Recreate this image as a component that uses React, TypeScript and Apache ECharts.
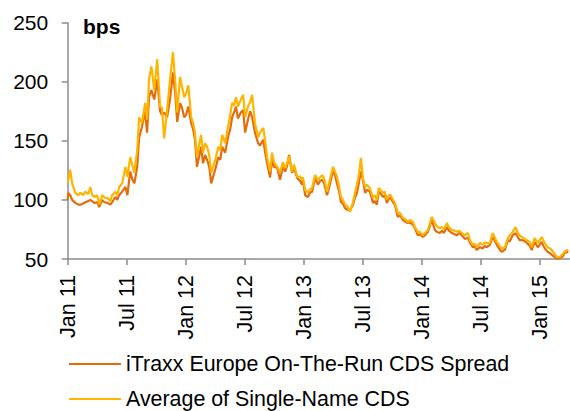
import React, { useEffect, useRef } from "react";
import * as echarts from "echarts";

const dates: string[] = [
  "2011-01-01","2011-01-03","2011-01-09","2011-01-15","2011-01-25","2011-02-03","2011-02-09","2011-02-17","2011-02-23","2011-03-04",
  "2011-03-10","2011-03-16","2011-03-23","2011-04-01","2011-04-07","2011-04-16","2011-04-23","2011-05-02","2011-05-11","2011-05-17",
  "2011-05-27","2011-06-02","2011-06-08","2011-06-17","2011-06-27","2011-07-03","2011-07-12","2011-07-18","2011-07-25","2011-08-03",
  "2011-08-09","2011-08-18","2011-08-28","2011-09-03","2011-09-09","2011-09-16","2011-09-25","2011-10-04","2011-10-13","2011-10-19",
  "2011-10-26","2011-11-04","2011-11-13","2011-11-22","2011-11-29","2011-12-05","2011-12-14","2011-12-20","2011-12-27","2012-01-02",
  "2012-01-09","2012-01-18","2012-01-24","2012-01-30","2012-02-05","2012-02-11","2012-02-17","2012-02-23","2012-02-29","2012-03-06",
  "2012-03-13","2012-03-19","2012-03-25","2012-04-01","2012-04-10","2012-04-16","2012-04-22","2012-05-01","2012-05-10","2012-05-17",
  "2012-05-23","2012-05-29","2012-06-04","2012-06-10","2012-06-19","2012-06-26","2012-07-02","2012-07-11","2012-07-18","2012-07-24",
  "2012-08-02","2012-08-12","2012-08-18","2012-08-28","2012-09-03","2012-09-09","2012-09-18","2012-09-24","2012-09-30","2012-10-10",
  "2012-10-19","2012-10-28","2012-11-04","2012-11-10","2012-11-16","2012-11-25","2012-12-01","2012-12-11","2012-12-20","2012-12-26",
  "2012-12-29","2013-01-05","2013-01-14","2013-01-20","2013-01-27","2013-02-05","2013-02-13","2013-02-19","2013-02-25","2013-03-03",
  "2013-03-12","2013-03-21","2013-03-31","2013-04-06","2013-04-12","2013-04-18","2013-04-24","2013-04-30","2013-05-07","2013-05-16",
  "2013-05-22","2013-06-01","2013-06-07","2013-06-13","2013-06-19","2013-06-25","2013-07-01","2013-07-08","2013-07-14","2013-07-23",
  "2013-08-02","2013-08-08","2013-08-14","2013-08-20","2013-08-27","2013-09-02","2013-09-08","2013-09-14","2013-09-20","2013-09-26",
  "2013-10-03","2013-10-09","2013-10-18","2013-10-25","2013-11-03","2013-11-09","2013-11-18","2013-11-24","2013-12-04","2013-12-10",
  "2013-12-19","2013-12-26","2014-01-04","2014-01-10","2014-01-20","2014-01-26","2014-02-01","2014-02-10","2014-02-15","2014-02-24",
  "2014-03-02","2014-03-08","2014-03-18","2014-03-24","2014-04-02","2014-04-11","2014-04-17","2014-04-24","2014-05-03","2014-05-12",
  "2014-05-22","2014-05-28","2014-06-06","2014-06-12","2014-06-18","2014-06-28","2014-07-07","2014-07-13","2014-07-19","2014-07-29",
  "2014-08-07","2014-08-14","2014-08-20","2014-08-29","2014-09-04","2014-09-14","2014-09-23","2014-09-29","2014-10-08","2014-10-17",
  "2014-10-24","2014-10-30","2014-11-06","2014-11-15","2014-11-21","2014-11-30","2014-12-06","2014-12-15","2014-12-25","2014-12-31",
  "2015-01-06","2015-01-16","2015-01-25","2015-02-01","2015-02-07","2015-02-15","2015-02-21","2015-03-01","2015-03-10","2015-03-16",
  "2015-03-25","2015-03-28"
];

const itraxx: number[] = [
  100,106,104,100,97.5,96,96,97,98,99,
  100,99,97.5,98,94,100,98,97.5,96,98,
  102.5,100,104,107,111,104,124,118,114,128,
  153,162,175,157,187,193,185,202,175,172,
  174,170,185,208,190,166,182,178,170,172,
  179,165,160,151,128,136,145,131,138,134,
  128,114,119.5,126,136,134,145,140,153,160,
  170,174,179,169,174,176,157,168,175,170,
  157,148,146,151,140,131,119,134,128,127,
  117,128,124,129,138,123,127,118.6,116,113,
  117,104,102.5,106,107,118.6,113,116,117,114,
  104,113,125,121,114,108,98.3,97,93,91.5,
  91,96,102,106,115,124,117,106,108.5,107,
  97.5,99,96,107,105,102.5,104,97.5,101,101.7,
  98,96,85.6,87,83,82,80.5,81,78.8,76,
  70,71,68.6,70,73,78,83,74.6,73,72,
  74,72,77,74,72,71,70,72,70,67,
  68,64,60,61,57.6,60,59,61,60,62,
  68.6,65,62,58,56,58,66,65,70,72,
  68.6,66,66,65,63.5,61,57.6,64.4,60,62,
  64.4,59,56,55,53.4,51.5,50.5,50.5,52,55,
  56,56
];

const average: number[] = [
  115,117,125.5,114,106,104,106,104,107,105,
  111,104,102.5,104,96,104,102,101.7,99,104,
  107,104,111,114,128,119.5,136,130,123,142,
  170,165,182,168,202,213,193,219,179,178,
  152,176,202,225,200,174,204,196,187,190,
  197,170,165,157,136,146,155,140,148,145,
  138,123,128,134,145,142,155,148,162,172,
  182,180,187,179,185,189,170,179,183,189,
  165,153,157,161,150,136,124,140,132,128,
  123,132,127,131,137,124,130,119.5,120,117,
  119,108.5,106,109,110,121,117,119,121,118,
  107,117,128,124,119.5,112,102.5,100,96,94,
  90,98,106,113,122,135.5,118.6,111,113,110,
  101.7,104,100,110,108,106,107,100,104,104,
  100,97.5,89,89,84.7,84,81.4,83,81.4,77,
  73,73,70,72,74.6,80,85.6,80.5,78,76,
  77,75,80.5,77,74.6,74,73,74,72,70,
  72,66,61.9,63,60,63.5,62,64,63.5,63.5,
  72,68,64.4,61,59,60,67.8,70,73,77,
  72,70,68.6,67,66,64,60,67.8,63.5,66,
  68.6,63.5,60,59,57.6,54,51.7,51.5,54,56,
  57.6,57.5
];

const seriesNames: string[] = [
  "iTraxx Europe On-The-Run CDS Spread",
  "Average of Single-Name CDS",
];
const monthNames: string[] = ["Jan", "Jul"];
const yTicks = { min: 50, max: 250, step: 50 };
const xEndMonth = 51.05;

function toMonths(s: string): number {
  const [y, m, d] = s.split("-").map(Number);
  const dim = new Date(y, m, 0).getDate();
  return (y - 2011) * 12 + (m - 1) + (d - 1) / dim;
}

const FONT = "'Liberation Sans', Arial, sans-serif";

export default function App() {
  const ref = useRef<HTMLDivElement>(null);
  useEffect(() => {
    if (!ref.current) return;
    const chart = echarts.init(ref.current, undefined, { renderer: "svg" });
    const xs = dates.map(toMonths);
    const axisColor = "#8c8c8c";
    const legendBase = {
      orient: "horizontal",
      left: 69,
      padding: 0,
      itemWidth: 52,
      itemHeight: 2,
      icon: "rect",
      textStyle: { fontFamily: FONT, fontSize: 21.4, color: "#000", lineHeight: 24 },
    };
    chart.setOption({
      animation: false,
      grid: { left: 67.7, right: 0, top: 22.7, bottom: 152, containLabel: false },
      legend: [
        { ...legendBase, top: 352, data: [seriesNames[0]] },
        { ...legendBase, top: 387, data: [seriesNames[1]] },
      ],
      xAxis: {
        type: "value",
        min: 0,
        max: xEndMonth,
        interval: 6,
        axisLine: { show: true, lineStyle: { color: axisColor, width: 1.5 } },
        axisTick: { show: true, length: 6, lineStyle: { color: axisColor, width: 1.5 } },
        splitLine: { show: false },
        axisLabel: {
          rotate: 90,
          margin: 16,
          fontFamily: FONT,
          fontSize: 21.5,
          color: "#000",
          showMaxLabel: false,
          formatter: (v: number) => {
            const k = Math.round(v / 6);
            if (Math.abs(v - k * 6) > 1e-6) return "";
            return monthNames[k % 2] + " " + (11 + Math.floor(k / 2));
          },
        },
      },
      yAxis: {
        type: "value",
        min: yTicks.min,
        max: yTicks.max,
        interval: yTicks.step,
        axisLine: { show: true, lineStyle: { color: axisColor, width: 1.5 } },
        axisTick: { show: true, length: 6, lineStyle: { color: axisColor, width: 1.5 } },
        splitLine: { show: false },
        axisLabel: { margin: 19.5, fontFamily: FONT, fontSize: 21, color: "#000" },
      },
      graphic: [
        {
          type: "text",
          left: 83,
          top: 16,
          style: { text: "bps", fontFamily: FONT, fontSize: 21, fontWeight: "bold", fill: "#000" },
        },
      ],
      series: [
        {
          name: seriesNames[0],
          type: "line",
          showSymbol: false,
          symbol: "none",
          lineStyle: { color: "#E46C0A", width: 2.2 },
          itemStyle: { color: "#E46C0A" },
          data: xs.map((x, i) => [x, itraxx[i]]),
        },
        {
          name: seriesNames[1],
          type: "line",
          showSymbol: false,
          symbol: "none",
          lineStyle: { color: "#FFB400", width: 2.2 },
          itemStyle: { color: "#FFB400" },
          data: xs.map((x, i) => [x, average[i]]),
        },
      ],
    });
    return () => chart.dispose();
  }, []);
  return <div ref={ref} style={{ width: 570, height: 411, position: "absolute", left: 0, top: 0 }} />;
}
